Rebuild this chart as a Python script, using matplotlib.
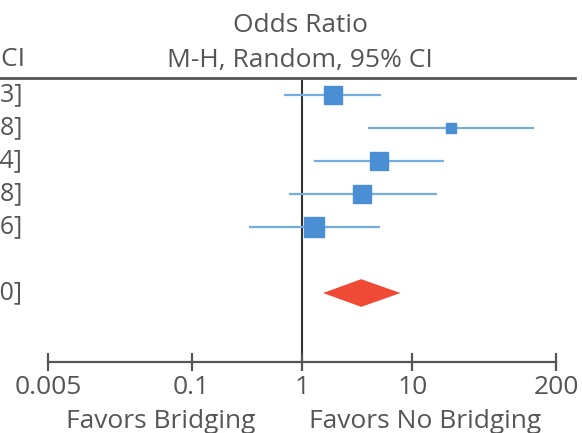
import matplotlib
matplotlib.use("Agg")
import matplotlib.pyplot as plt
from matplotlib.lines import Line2D
from matplotlib.patches import Polygon
from matplotlib.transforms import blended_transform_factory


# Study rows (odds ratio, lower and upper 95% CI)
study_or = [1.91, 22.6, 5.01, 3.51, 1.29]
study_lo = [0.69, 3.98, 1.29, 0.76, 0.33]
study_hi = [5.23, 125.98, 19.54, 16.58, 5.06]
study_size = [13.5, 7.0, 12.5, 12.5, 14.0]  # marker size (weight)
study_labels = ["1.91 [0.69, 5.23]", "22.60 [3.98, 125.98]",
                "5.01 [1.29, 19.54]", "3.51 [0.76, 16.58]",
                "1.29 [0.33, 5.06]"]

# Pooled estimate
total_or = 3.44
total_lo = 1.55
total_hi = 7.80
total_label = "3.44 [1.55, 7.80]"

tick_values = [0.005, 0.1, 1, 10, 200]
tick_labels = ["0.005", "0.1", "1", "10", "200"]

W, H = 582, 433
TXT = "#555555"
plt.rcParams["font.family"] = ["Open Sans", "DejaVu Sans"]


def fx(x):
    return x / W


def fy(y):
    return 1 - y / H


def main():
    fig = plt.figure(figsize=(W / 100, H / 100), dpi=100)
    ax = fig.add_axes([fx(48), fy(362), (556 - 48) / W, (362 - 80) / H])

    ax.set_xscale("log")
    ax.set_xlim(0.005, 200)
    ax.set_ylim(9.09, 0.545)

    # study rows
    rows = list(range(1, len(study_or) + 1))
    for r, o, lo, hi, s in zip(rows, study_or, study_lo, study_hi, study_size):
        ax.plot([lo, hi], [r, r], color="#74aee0", lw=1.6,
                solid_capstyle="butt", zorder=2)
        ax.plot(o, r, marker="s", ms=s, color="#4a8ed3", mec="#4a8ed3",
                zorder=3)

    # pooled diamond
    total_row = 7
    dh = 0.42
    diamond = Polygon([(total_lo, total_row), (total_or, total_row - dh),
                       (total_hi, total_row), (total_or, total_row + dh)],
                      closed=True, color="#ee4a35", lw=0, zorder=3)
    ax.add_patch(diamond)

    # line of no effect
    ax.axvline(1, color="#333333", lw=1.5, zorder=1)

    # axis styling
    for side in ["top", "left", "right"]:
        ax.spines[side].set_visible(False)
    ax.spines["bottom"].set_color(TXT)
    ax.spines["bottom"].set_linewidth(1.6)
    ax.set_yticks([])
    ax.set_xticks(tick_values)
    ax.set_xticklabels(tick_labels)
    ax.minorticks_off()
    ax.tick_params(axis="x", direction="inout", length=13, width=1.6,
                   color=TXT, labelcolor=TXT, labelsize=19, pad=3)

    # cut-off CI column on the left (the reference is cropped here)
    tr = blended_transform_factory(fig.transFigure, ax.transData)
    for r, lab in zip(rows, study_labels):
        ax.text(fx(22), r, lab, transform=tr, ha="right", va="center",
                fontsize=18, color=TXT, clip_on=False)
    ax.text(fx(22), total_row, total_label, transform=tr, ha="right",
            va="center", fontsize=18, color=TXT, clip_on=False)

    # header
    fig.text(fx(300), fy(25), "Odds Ratio", ha="center", va="center",
             fontsize=19, color=TXT)
    fig.text(fx(300), fy(60), "M-H, Random, 95% CI", ha="center",
             va="center", fontsize=19, color=TXT)
    fig.text(fx(25), fy(60), "95% CI", ha="right", va="center",
             fontsize=19, color=TXT)
    fig.add_artist(Line2D([0, fx(575)], [fy(78), fy(78)], color=TXT, lw=2))

    # footer
    fig.text(fx(161), fy(421), "Favors Bridging", ha="center", va="center",
             fontsize=19, color=TXT)
    fig.text(fx(425), fy(421), "Favors No Bridging", ha="center",
             va="center", fontsize=19, color=TXT)

    fig.savefig("out.png", dpi=100)


if __name__ == "__main__":
    main()
